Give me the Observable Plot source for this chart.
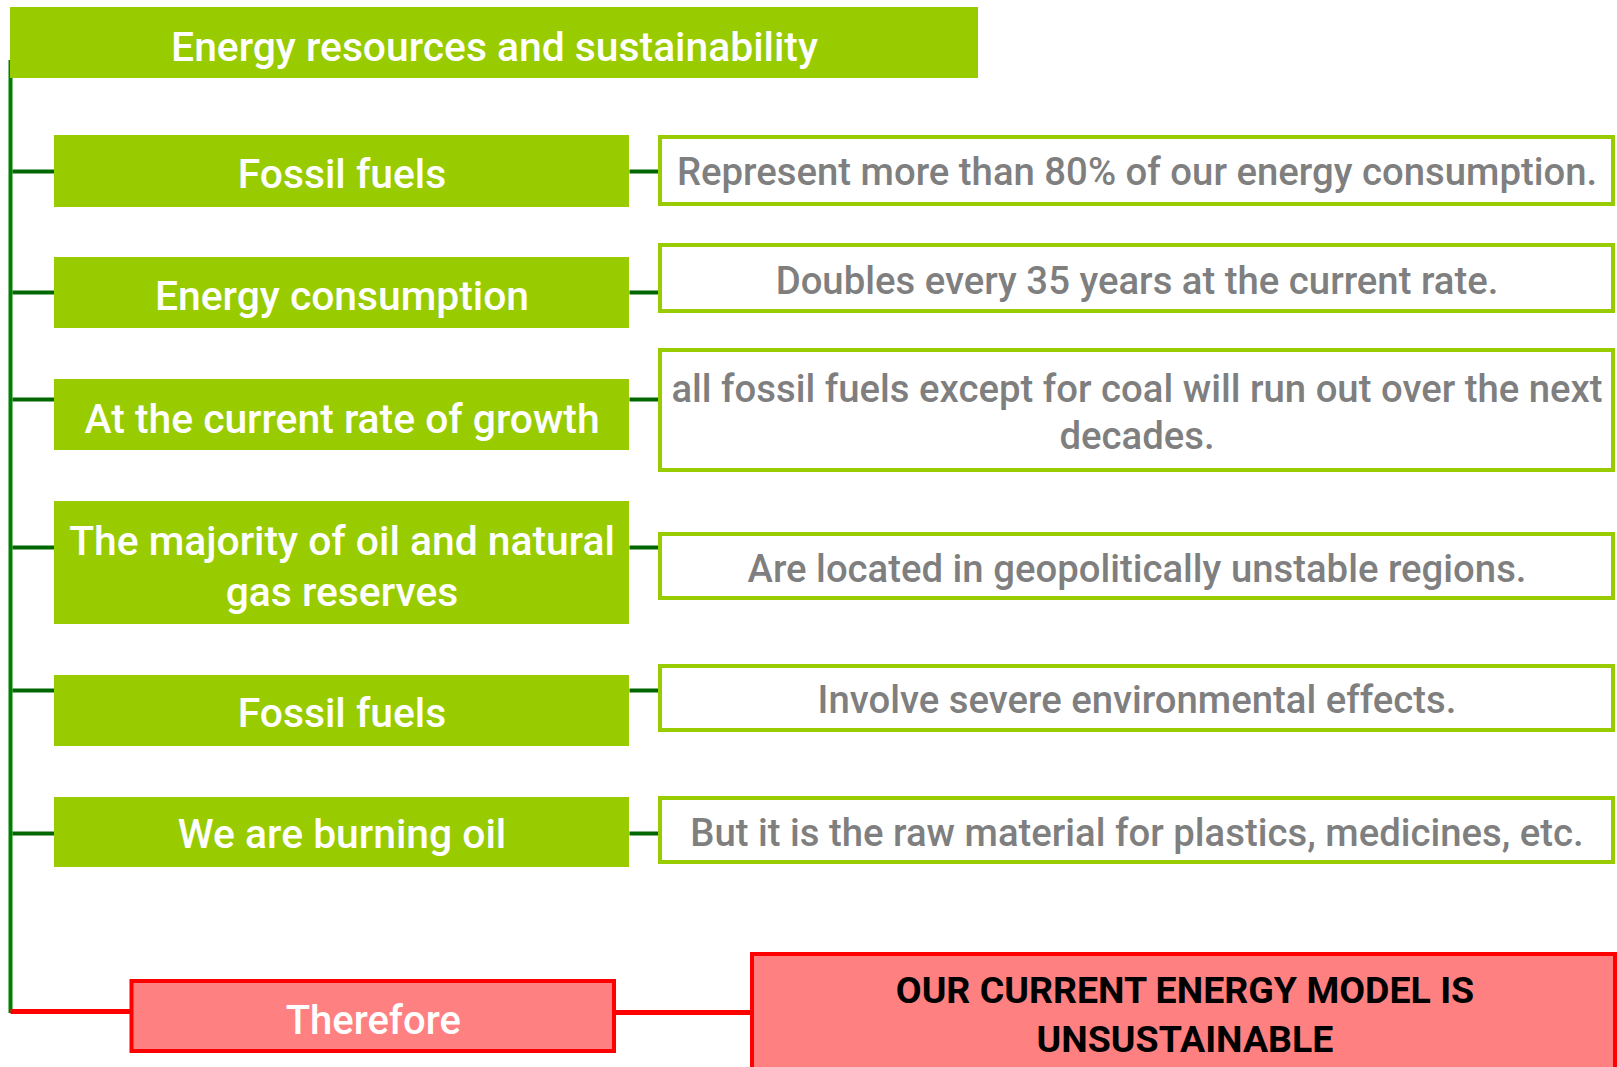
<!DOCTYPE html>
<html>
<head>
<meta charset="utf-8">
<script src="https://cdn.jsdelivr.net/npm/d3@7"></script>
<script src="https://cdn.jsdelivr.net/npm/@observablehq/plot@0.6"></script>
<style>
  html, body { margin: 0; padding: 0; background: #ffffff; }
  #chart svg { display: block; }
</style>
</head>
<body>
<div id="chart"></div>
<script>
// ---- content ----
const title = "Energy resources and sustainability";
const topics = [
  "Fossil fuels",
  "Energy consumption",
  "At the current rate of growth",
  "The majority of oil and natural\ngas reserves",
  "Fossil fuels",
  "We are burning oil"
];
const facts = [
  "Represent more than 80% of our energy consumption.",
  "Doubles every 35 years at the current rate.",
  "all fossil fuels except for coal will run out over the next\ndecades.",
  "Are located in geopolitically unstable regions.",
  "Involve severe environmental effects.",
  "But it is the raw material for plastics, medicines, etc."
];
const conclusionLabel = "Therefore";
const conclusion = "OUR CURRENT ENERGY MODEL IS\nUNSUSTAINABLE";

// ---- layout (diagram units) ----
const topicTop    = [135, 257, 379, 501, 675, 797];
const topicBottom = [207, 328, 450, 624, 746, 867];
const factTop     = [137, 245, 350, 534, 666, 798];
const factBottom  = [204, 311, 470, 598, 730, 862];
const linkY       = [171, 292, 399, 547, 690, 833];
const topicTextY  = [171, 293, 416, 564, 710, 831];
const factTextY   = [169, 278, 410, 566, 697, 830];

const W = 1617, H = 1067;
const spineX = 10;
const topicX = [54, 629];
const factX = [660, 1613];

const rows = topics.map((t, i) => ({
  topic: t, fact: facts[i],
  tTop: topicTop[i], tBot: topicBottom[i],
  fTop: factTop[i], fBot: factBottom[i],
  link: linkY[i], tY: topicTextY[i], fY: factTextY[i]
}));

const header = [{label: title, x1: 10, x2: 978, y1: 7, y2: 78, ty: 47}];
const thereforeBox = [{label: conclusionLabel, x1: 131.5, x2: 614, y1: 981, y2: 1051, ty: 1021}];
const conclusionBox = [{label: conclusion, x1: 752, x2: 1615, y1: 954, y2: 1090, ty: 1011}];

const font = "Roboto, 'Open Sans', sans-serif";

const chart = Plot.plot({
  width: W, height: H,
  margin: 0,
  x: {domain: [0, W], range: [0, W], axis: null},
  y: {domain: [0, H], range: [0, H], axis: null},
  style: {background: "#ffffff"},
  marks: [
    // spine
    Plot.ruleX([spineX], {y1: 60, y2: 1013, stroke: "#008000", strokeWidth: 4}),
    // header
    Plot.rect(header, {x1: "x1", x2: "x2", y1: "y1", y2: "y2", fill: "#99CC00"}),
    Plot.text(header, {x: d => (d.x1 + d.x2) / 2, y: "ty", text: "label", fill: "white",
      fontSize: 40.8, fontWeight: 500, fontFamily: font}),
    // connectors
    Plot.link(rows, {x1: spineX + 2, x2: topicX[0], y1: "link", y2: "link", stroke: "#006600", strokeWidth: 4}),
    Plot.link(rows, {x1: topicX[1], x2: factX[0], y1: "link", y2: "link", stroke: "#006600", strokeWidth: 4}),
    // topic boxes
    Plot.rect(rows, {x1: topicX[0], x2: topicX[1], y1: "tTop", y2: "tBot", fill: "#99CC00"}),
    Plot.text(rows, {x: (topicX[0] + topicX[1]) / 2, y: "tY", text: "topic", fill: "white",
      fontSize: 40.8, fontWeight: 500, fontFamily: font, lineHeight: 1.25}),
    // fact boxes
    Plot.rect(rows, {x1: factX[0], x2: factX[1], y1: "fTop", y2: "fBot", fill: "white",
      stroke: "#99CC00", strokeWidth: 4}),
    Plot.text(rows, {x: (factX[0] + factX[1]) / 2, y: "fY", text: "fact", fill: "#7F7F7F",
      fontSize: 38.3, fontWeight: 500, fontFamily: font, lineHeight: 1.23}),
    // conclusion
    Plot.link([0], {x1: spineX, x2: 131.5, y1: 1011, y2: 1011, stroke: "#FF0000", strokeWidth: 5}),
    Plot.link([0], {x1: 614, x2: 752, y1: 1012, y2: 1012, stroke: "#FF0000", strokeWidth: 5}),
    Plot.rect(thereforeBox, {x1: "x1", x2: "x2", y1: "y1", y2: "y2", fill: "#FF8080",
      stroke: "#FF0000", strokeWidth: 4}),
    Plot.text(thereforeBox, {x: d => (d.x1 + d.x2) / 2, y: "ty", text: "label", fill: "white",
      fontSize: 40, fontWeight: 500, fontFamily: font}),
    Plot.rect(conclusionBox, {x1: "x1", x2: "x2", y1: "y1", y2: "y2", fill: "#FF8080",
      stroke: "#FF0000", strokeWidth: 4, clip: true}),
    Plot.text(conclusionBox, {x: d => (d.x1 + 1617) / 2, y: "ty", text: "label", fill: "black",
      fontSize: 37.5, fontWeight: 700, fontFamily: font, lineHeight: 1.33})
  ]
});
document.getElementById("chart").appendChild(chart);
</script>
</body>
</html>
